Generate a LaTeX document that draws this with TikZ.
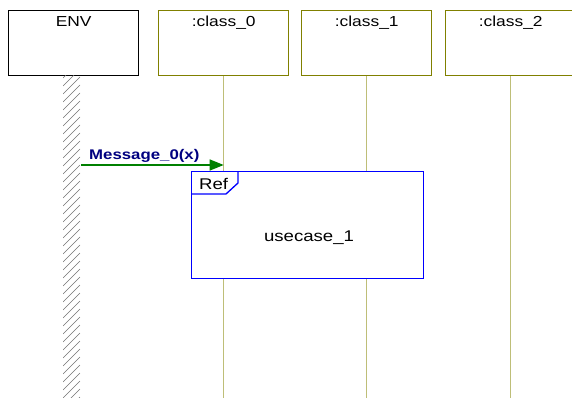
\documentclass[tikz,border=0pt]{standalone}
\usepackage{fontspec}
\setmainfont{Liberation Sans}
\newfontfamily\labfont[FakeStretch=1.2]{Liberation Sans}
\usetikzlibrary{arrows.meta}
\definecolor{boxolive}{RGB}{128,128,0}
\definecolor{lifeolive}{RGB}{190,190,120}
\definecolor{msggreen}{RGB}{0,128,0}
\definecolor{msgnavy}{RGB}{0,0,128}
\definecolor{refblue}{RGB}{0,0,255}
\tikzset{
  objbox/.style={draw=boxolive, line width=1.4pt, fill=white, minimum width=130pt, minimum height=65pt, inner sep=0pt},
  envbox/.style={draw=black, line width=1.4pt, fill=white, minimum width=130pt, minimum height=65pt, inner sep=0pt},
  boxlabel/.style={font=\labfont\fontsize{14.5}{16}\selectfont, anchor=north, inner sep=0pt},
  lifeline/.style={draw=lifeolive, line width=1.3pt},
  msgline/.style={draw=msggreen, line width=1.3pt, -{Triangle[length=14pt,width=11pt]}},
  msglabel/.style={font=\labfont\bfseries\fontsize{14}{16}\selectfont, text=msgnavy, inner sep=0pt, anchor=base west},
  refframe/.style={draw=refblue, line width=1.3pt, fill=white},
  reflabel/.style={font=\labfont\fontsize{15.5}{17}\selectfont, inner sep=0pt},
  hatch/.style={draw=black!55, line width=0.6pt}
}
\begin{document}
\begin{tikzpicture}[x=1pt,y=-1pt]
\useasboundingbox (0,0) rectangle (572,398);
% boxes
\node[envbox, anchor=north west] (env) at (8,10) {};
\node[objbox, anchor=north west] (c0) at (158,10) {};
\node[objbox, anchor=north west] (c1) at (301,10) {};
\node[objbox, anchor=north west] (c2) at (445,10) {};
\node[boxlabel] (envt) at ([yshift=-6pt]env.north) {ENV};
\node[boxlabel] (c0t) at ([yshift=-6pt]c0.north) {:class\_0};
\node[boxlabel] (c1t) at ([yshift=-6pt]c1.north) {:class\_1};
\node[boxlabel] (c2t) at ([yshift=-6pt]c2.north) {:class\_2};
% ends of lifelines
\coordinate (c0e) at (c0.south |- 0,398);
\coordinate (c1e) at (c1.south |- 0,398);
\coordinate (c2e) at (c2.south |- 0,398);
\draw[lifeline] (c0.south) -- (c0e);
\draw[lifeline] (c1.south) -- (c1e);
\draw[lifeline] (c2.south) -- (c2e);
% ENV hatched strip
\begin{scope}
\clip (63,76) rectangle (81,398);
\foreach \yy in {78,86,...,420} {
  \draw[hatch] (63,\yy) -- (80,\yy-17);
}
\end{scope}
% message
\coordinate (ms) at (81,165);
\coordinate (me) at (c0.south |- 0,165);
\draw[msgline] (ms) -- (me);
\node[msglabel] (ml) at (89,160) {Message\_0(x)};
% ref frame
\node[refframe, anchor=north west, minimum width=232pt, minimum height=107pt, inner sep=0pt] (ref) at (191,171) {};
\draw[draw=refblue, line width=1.3pt] (ref.north west) ++(47,0) coordinate (t1) -- ++(0,12) -- ++(-12,11) -- (ref.north west |- 0,194);
\node[reflabel, anchor=base west] (reft) at (199,189) {Ref};
\node[reflabel] (uc) at (309,238) {usecase\_1};
\end{tikzpicture}
\end{document}
